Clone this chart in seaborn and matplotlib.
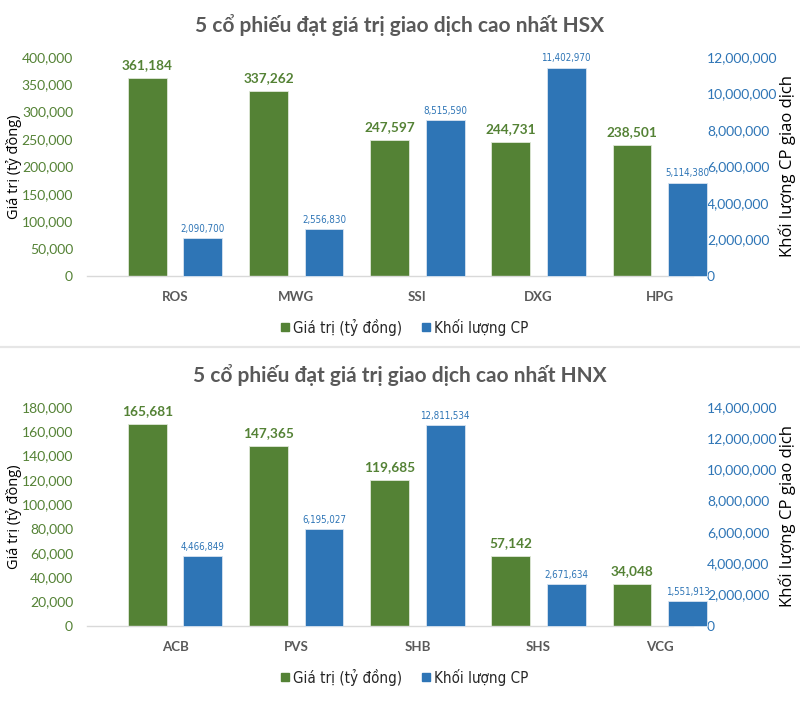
import matplotlib
matplotlib.use("Agg")
import matplotlib.pyplot as plt
import matplotlib.lines as mlines
import matplotlib.ticker as mticker
from matplotlib import font_manager
import seaborn as sns
import pandas as pd
import numpy as np

sns.set_theme(style="white")
plt.rcParams['font.family'] = ['Lato', 'DejaVu Sans']

# ---- data ----
hsx_codes = ["ROS", "MWG", "SSI", "DXG", "HPG"]
hsx_value = [361184, 337262, 247597, 244731, 238501]
hsx_volume = [2090700, 2556830, 8515590, 11402970, 5114380]

hnx_codes = ["ACB", "PVS", "SHB", "SHS", "VCG"]
hnx_value = [165681, 147365, 119685, 57142, 34048]
hnx_volume = [4466849, 6195027, 12811534, 2671634, 1551913]

series_names = ["Giá trị (tỷ đồng)", "Khối lượng CP"]
titles = ["5 cổ phiếu đạt giá trị giao dịch cao nhất HSX",
          "5 cổ phiếu đạt giá trị giao dịch cao nhất HNX"]
left_label = "Giá trị (tỷ đồng)"
right_label = "Khối lượng CP giao dịch"

GREEN = "#548235"
BLUE = "#2E75B6"
GRAY = "#595959"

# pick a narrow font if one is installed
ttf = font_manager.fontManager.ttflist
names = {f.name for f in ttf}
if 'Liberation Sans Narrow' in names:
    NARROW = dict(family=['Liberation Sans Narrow', 'DejaVu Sans'], stretch='normal')
    scale = 1.0
elif any(f.name == 'DejaVu Sans' and str(f.stretch) in ('condensed', 'semi-condensed') for f in ttf):
    NARROW = dict(family=['DejaVu Sans'], stretch='condensed')
    scale = 0.88
else:
    NARROW = dict(family=['Lato', 'DejaVu Sans'], stretch='normal')
    scale = 0.86

W, H = 800, 714
fig = plt.figure(figsize=(W / 100, H / 100), dpi=100)


def fx(px):
    return px / W


def fy(py):
    return 1 - py / H


def panel(codes, values, volumes, top_px, bot_px, lmax, lstep, rmax, rstep, title, title_y, legend_y):
    ax = fig.add_axes([fx(87), fy(bot_px), fx(606), (bot_px - top_px) / H])
    ax2 = ax.twinx()

    df_l = pd.DataFrame({"code": codes + codes,
                         "series": [series_names[0]] * 5 + [series_names[1]] * 5,
                         "val": list(values) + [np.nan] * 5})
    df_r = pd.DataFrame({"code": codes + codes,
                         "series": [series_names[0]] * 5 + [series_names[1]] * 5,
                         "val": [np.nan] * 5 + list(volumes)})
    pal = {series_names[0]: GREEN, series_names[1]: BLUE}
    sns.barplot(data=df_l, x="code", y="val", hue="series", hue_order=series_names,
                order=codes, palette=pal, ax=ax, width=0.916, gap=0.3, legend=False,
                saturation=1, edgecolor="#dfe8d8", linewidth=0.6, err_kws={'linewidth': 0})
    sns.barplot(data=df_r, x="code", y="val", hue="series", hue_order=series_names,
                order=codes, palette=pal, ax=ax2, width=0.916, gap=0.3, legend=False,
                saturation=1, edgecolor="#d8e4f0", linewidth=0.6, err_kws={'linewidth': 0})

    for p in ax2.patches:
        p.set_clip_on(False)

    ax.set_ylim(0, lmax)
    ax2.set_ylim(0, rmax)
    ax.set_yticks(np.arange(0, lmax + 1, lstep))
    ax2.set_yticks(np.arange(0, rmax + 1, rstep))
    ax.yaxis.set_major_formatter(mticker.FuncFormatter(lambda v, p: f"{int(v):,}"))
    ax2.yaxis.set_major_formatter(mticker.FuncFormatter(lambda v, p: f"{int(v):,}"))
    ax.set_xlim(-0.726, 4.274)

    for a in (ax, ax2):
        for s in a.spines.values():
            s.set_visible(False)
        a.set_xlabel("")
        a.set_ylabel("")
        a.grid(False)
        a.set_facecolor("none")
    ax.spines["bottom"].set_visible(True)
    ax.spines["bottom"].set_color("#d9d9d9")
    ax.spines["bottom"].set_linewidth(1.0)

    ax.tick_params(axis="y", length=0, pad=10, labelsize=10, labelcolor=GREEN)
    ax2.tick_params(axis="y", length=0, pad=10, labelsize=10, labelcolor=BLUE)
    ax.tick_params(axis="x", length=0, pad=11, labelsize=9.5, labelcolor=GRAY)
    for t in ax.get_xticklabels():
        t.set_fontweight("bold")

    mid = (top_px + bot_px) / 2
    fig.text(fx(14), fy(mid), left_label, rotation=90, ha="center", va="center",
             fontsize=10.5, color="black", family=['Open Sans', 'DejaVu Sans'])
    fig.text(fx(787), fy(mid), right_label, rotation=90, ha="center", va="center",
             fontsize=12, color="black", family=['Open Sans', 'DejaVu Sans'])

    # data labels
    gbars = [p for p in ax.patches if np.isfinite(p.get_height()) and p.get_height() > 0]
    bbars = [p for p in ax2.patches if np.isfinite(p.get_height()) and p.get_height() > 0]
    for p, v in zip(gbars, values):
        ax.annotate(f"{v:,}", (p.get_x() + p.get_width() / 2, p.get_height()),
                    xytext=(0, 5), textcoords="offset points", ha="center", va="bottom",
                    fontsize=9.8, fontweight="bold", color=GREEN,
                    family=['Lato', 'DejaVu Sans'], annotation_clip=False)
    for p, v in zip(bbars, volumes):
        ax2.annotate(f"{v:,}", (p.get_x() + p.get_width() / 2, p.get_height()),
                     xytext=(0, 3), textcoords="offset points", ha="center", va="bottom",
                     fontsize=8 * scale, color=BLUE,
                     family=NARROW['family'], fontstretch=NARROW['stretch'],
                     annotation_clip=False)

    fig.text(0.5, fy(title_y), title, ha="center", va="center", fontsize=15,
             fontweight="bold", color=GRAY)

    handles = [mlines.Line2D([], [], marker="s", linestyle="none", markersize=6,
                             markerfacecolor=c, markeredgecolor=c) for c in (GREEN, BLUE)]
    fig.legend(handles, series_names, loc="center", bbox_to_anchor=(fx(403), fy(legend_y)),
               ncol=2, frameon=False, handletextpad=0.0, columnspacing=1.1,
               prop={'family': NARROW['family'], 'stretch': NARROW['stretch'],
                     'size': 12.4 * scale},
               handlelength=1.0)


panel(hsx_codes, hsx_value, hsx_volume, 56.7, 276, 400000, 50000, 12000000, 2000000,
      titles[0], 25, 327)
panel(hnx_codes, hnx_value, hnx_volume, 406.7, 625.7, 180000, 20000, 14000000, 2000000,
      titles[1], 375, 677)

fig.add_artist(mlines.Line2D([0, 1], [fy(346.5), fy(346.5)], color="#e6e6e6", linewidth=1.6))

fig.savefig("out.png", dpi=100)
